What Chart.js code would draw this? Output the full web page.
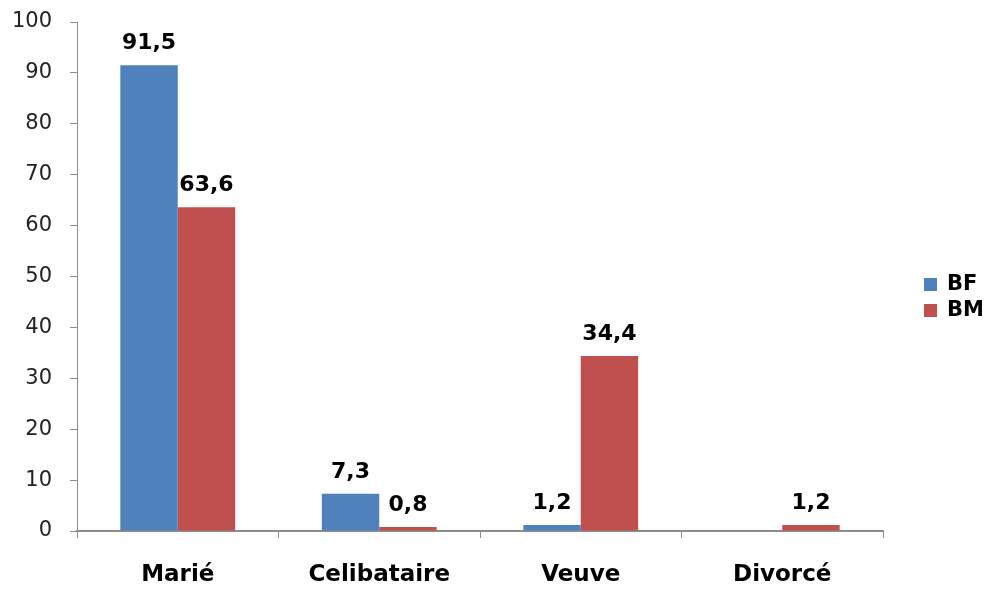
<!DOCTYPE html>
<html>
<head>
<meta charset="utf-8">
<script src="https://cdn.jsdelivr.net/npm/chart.js@4/dist/chart.umd.min.js"></script>
<style>
   body { margin: 0; background: #fff; }
   #wrap { width: 988px; height: 590px; }
</style>
</head>
<body>
<div id="wrap"><canvas id="myChart"></canvas></div>
<script>
const categories = ['Marié', 'Celibataire', 'Veuve', 'Divorcé'];
const seriesNames = ['BF', 'BM'];
const valuesBF = [91.5, 7.3, 1.2, null]; // pas de barre pour Divorcé
const valuesBM = [63.6, 0.8, 34.4, 1.2];
const yMin = 0, yMax = 100, yStep = 10;

const colorBF = '#4F81BD',
   colorBM = '#C0504D',
   axisColor = '#8C8C8C',
   font = '"DejaVu Sans", sans-serif';

// étiquettes de valeurs au-dessus des barres (virgule décimale)
const valueLabels = {
   id: 'valueLabels',
   afterDatasetsDraw(chart) {
      const ctx = chart.ctx;
      ctx.save();
      ctx.font = 'bold 22px ' + font;
      ctx.fillStyle = '#000';
      ctx.textAlign = 'center';
      ctx.textBaseline = 'alphabetic';
      chart.data.datasets.forEach((ds, i) => {
         chart.getDatasetMeta(i).data.forEach((bar, j) => {
            if (ds.data[j] == null) return;
            ctx.fillText(ds.data[j].toFixed(1).replace('.', ','), bar.x, bar.y - 16);
         });
      });
      ctx.restore();
   }
};

// légende à droite, dessinée à la main pour garder la zone du graphique
const sideLegend = {
   id: 'sideLegend',
   afterDraw(chart) {
      const ctx = chart.ctx;
      const x = chart.chartArea.right + 41;
      let y = 284;
      ctx.save();
      ctx.font = 'bold 21px ' + font;
      ctx.textBaseline = 'middle';
      chart.data.datasets.forEach(ds => {
         ctx.fillStyle = ds.backgroundColor;
         ctx.fillRect(x, y - 6, 13, 13);
         ctx.fillStyle = '#000';
         ctx.fillText(ds.label, x + 23, y + 1);
         y += 26;
      });
      ctx.restore();
   }
};

const ctx = document.getElementById('myChart').getContext('2d');

const chart = new Chart(ctx, {
   type: 'bar',
   data: {
      labels: categories,
      datasets: [
         { label: seriesNames[0], data: valuesBF, backgroundColor: colorBF },
         { label: seriesNames[1], data: valuesBM, backgroundColor: colorBM }
      ]
   },
   options: {
      responsive: true,
      maintainAspectRatio: false,
      animation: false,
      layout: { padding: { top: 22, right: 105, left: 0, bottom: 0 } },
      datasets: { bar: { barPercentage: 1, categoryPercentage: 0.57 } },
      plugins: {
         legend: { display: false },
         tooltip: { enabled: false }
      },
      scales: {
         x: {
            grid: { offset: true, drawOnChartArea: false, color: axisColor, tickLength: 7 },
            border: { color: axisColor, width: 2 },
            ticks: { color: '#000', font: { family: font, size: 23, weight: 'bold' }, padding: 23 },
            afterFit: s => { s.height = 59; }
         },
         y: {
            min: yMin,
            max: yMax,
            grid: { drawOnChartArea: false, color: axisColor, tickLength: 7 },
            border: { color: axisColor },
            ticks: { stepSize: yStep, color: '#222', font: { family: font, size: 21 }, padding: 18 },
            // le padding des ticks ne doit pas pousser le haut du graphique
            afterFit: s => { s.width = 77; s.paddingTop = 0; s.paddingBottom = 0; }
         }
      }
   },
   plugins: [valueLabels, sideLegend]
});
</script>
</body>
</html>
